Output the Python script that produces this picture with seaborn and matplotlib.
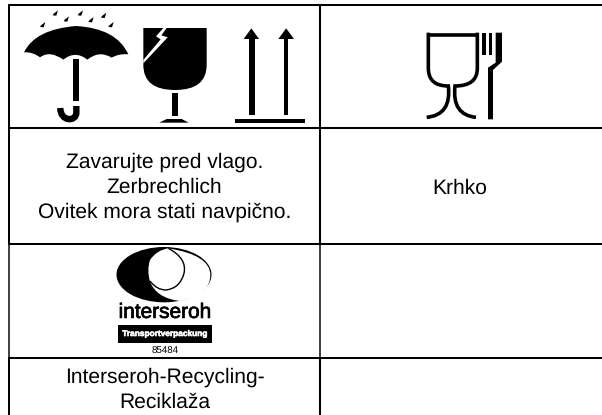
import matplotlib
matplotlib.use('Agg')
import matplotlib.pyplot as plt
import matplotlib.patheffects as pe
import seaborn as sns
from matplotlib.patches import Polygon, Ellipse, PathPatch, Rectangle
from matplotlib.path import Path

sns.set_theme(style='white')
plt.rcParams['font.family'] = ['Liberation Sans', 'DejaVu Sans']
plt.rcParams['text.hinting'] = 'none'

# table text
cell_lines = ['Zavarujte pred vlago.', 'Zerbrechlich', 'Ovitek mora stati navpično.']
cell_krhko = 'Krhko'
cell_recycling = ['Interseroh-Recycling-', 'Reciklaža']
logo_name = 'interseroh'
logo_band = 'Transportverpackung'
logo_number = '85484'

# rules of the table
column_rules = [9, 320]
row_rules = [5, 128, 244, 358]

fig, ax = plt.subplots(figsize=(6.02, 4.15), dpi=100)
ax.set_position([0, 0, 1, 1])
ax.set_xlim(0, 602)
ax.set_ylim(415, 0)
ax.axis('off')

for x in column_rules:
    # the logo row has a lighter rule in the reference
    sns.lineplot(x=[x, x], y=[5, 244], ax=ax, color='black', lw=1.45, sort=False, estimator=None)
    sns.lineplot(x=[x, x], y=[244, 358], ax=ax, color='#444444', lw=1.45, sort=False, estimator=None)
    sns.lineplot(x=[x, x], y=[358, 415], ax=ax, color='black', lw=1.45, sort=False, estimator=None)
for y in row_rules:
    sns.lineplot(x=[9, 602], y=[y, y], ax=ax, color='black', lw=1.45, sort=False, estimator=None)


def z(pts, dx=0, dy=0):
    return [(dx + p[0] / 3, dy + p[1] / 3) for p in pts]


def poly(pts, color='black', dx=0, dy=0):
    ax.add_patch(Polygon(z(pts, dx, dy), closed=True, fc=color, ec='none'))


def filled(verts, codes, color='black', dx=0, dy=0):
    ax.add_patch(PathPatch(Path(z(verts, dx, dy), codes), fc=color, ec='none'))


def curve(verts, codes, lw, dx=0, dy=0):
    p = Path(z(verts, dx, dy), codes)
    ax.add_patch(PathPatch(p, fc='none', ec='black', lw=lw, capstyle='butt'))


M, L, C3, C4 = Path.MOVETO, Path.LINETO, Path.CURVE3, Path.CURVE4

# umbrella
canopy = [(72, 157), (105, 88), (228, 78), (350, 85), (385, 163),
          (358, 160), (335, 173), (298, 150), (262, 179), (226, 150), (190, 179), (150, 150), (120, 172), (98, 155), (72, 157)]
filled(canopy, [M] + [C3] * 14)
poly([(219, 178), (238, 178), (238, 303), (219, 303)])
curve([(229, 318), (229, 338), (229, 366), (181, 366), (181, 324)], [M, L, C4, C4, C4], 4.6)
for dropx, dropy in [(127, 75), (165, 40), (198, 58), (240, 40), (272, 60), (310, 47), (332, 75)]:
    poly([(dropx + 9, dropy - 9), (dropx + 4, dropy + 7), (dropx - 7, dropy + 6), (dropx - 4, dropy + 1)])

# glass
filled([(430, 84), (620, 84), (620, 195), (620, 270), (525, 270), (430, 270), (430, 195), (430, 84)],
       [M, L, L, C3, C3, C3, C3, L])
poly([(490, 84), (500, 84), (484, 106), (503, 112), (430, 190), (430, 180), (482, 118), (468, 109)], 'white')
poly([(516, 278), (535, 278), (535, 347), (516, 347)])
poly([(478, 368), (500, 357), (545, 357), (566, 368)])

# arrows
for sx0, sx1, ax0, ax1 in [(748, 765, 731, 777), (851, 863, 835, 882)]:
    poly([(sx0, 115), (sx1, 115), (sx1, 345), (sx0, 345)])
    poly([((ax0 + ax1) / 2, 85), (ax1, 117), (ax0, 117)])
poly([(705, 357), (915, 357), (915, 369), (705, 369)])

# wine glass and fork
curve([(325, 104), (472, 104)], [M, L], 2.6, dx=320)
curve([(325, 98), (325, 205), (325, 258), (385, 258), (395, 345), (320, 352)], [M, L, C3, C3, C3, C3], 2.6, dx=320)
curve([(472, 98), (472, 205), (472, 258), (405, 258), (395, 345), (468, 352)], [M, L, C3, C3, C3, C3], 2.6, dx=320)
poly([(487, 98), (498, 98), (498, 165), (487, 165)], dx=320)
poly([(507, 98), (517, 98), (517, 165), (507, 165)], dx=320)
poly([(527, 98), (546, 98), (546, 185), (519, 210), (519, 358), (504, 358), (504, 203), (527, 188)], dx=320)

# logo, zoom coordinates are offset by (100, 235)
ox, oy = 100, 235
ax.add_patch(Ellipse((ox + 192 / 3, oy + 119 / 3), 285 / 3, 166 / 3, fc='black', ec='none'))
white_area = [(205, 40), (330, 60), (331, 119), (332, 180), (240, 198),
              (170, 190), (150, 140), (140, 105), (150, 75), (170, 45), (205, 40)]
filled(white_area, [M, C3, C3, C3, C3, C3, C3, C3, C3, C3, C3], 'white', ox, oy)
curve([(205, 40), (262, 70), (252, 115), (240, 160), (198, 165), (170, 165), (150, 138)],
      [M, C3, C3, C3, C3, C3, C3], 1.0, ox, oy)

name = ax.text(165, 312.5, logo_name, ha='center', va='center', fontsize=15, color='black')
name.set_path_effects([pe.withStroke(linewidth=0.5, foreground='black')])
ax.add_patch(Rectangle((118, 325), 94, 18, fc='black', ec='none'))
band = ax.text(165, 334, logo_band, ha='center', va='center', fontsize=6.0, color='white', fontweight='bold')
band.set_path_effects([pe.withStroke(linewidth=0.4, foreground='white')])
ax.text(165, 351, logo_number, ha='center', va='center', fontsize=7.0, color='black')

# table text
for y, line in zip([162.5, 187.5, 212], cell_lines):
    ax.text(164.5, y, line, ha='center', va='center', fontsize=15.1, color='black')
ax.text(460, 188, cell_krhko, ha='center', va='center', fontsize=15.1, color='black')
for y, line in zip([377, 402], cell_recycling):
    ax.text(165, y, line, ha='center', va='center', fontsize=15.1, color='black')

fig.savefig('out.png', dpi=100)
